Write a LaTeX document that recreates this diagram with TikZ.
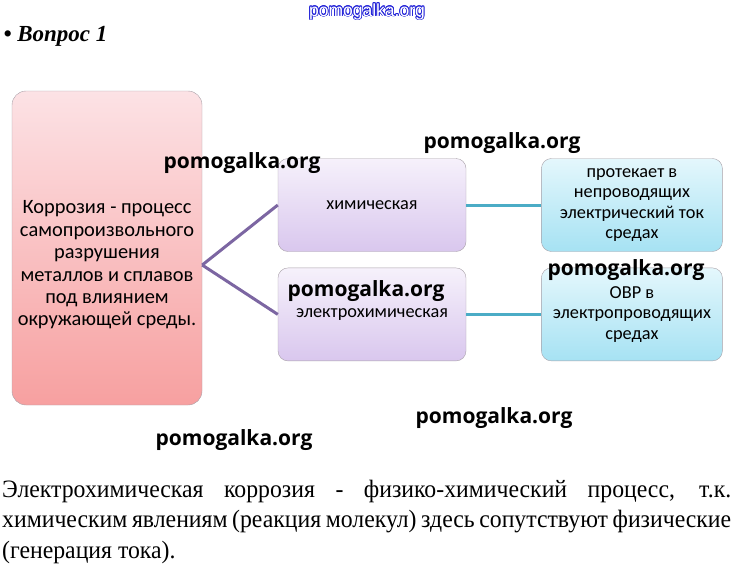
\documentclass[tikz,border=0pt]{standalone}
\usepackage{fontspec}
\setmainfont{Liberation Serif}
\newfontfamily\boxfont{Carlito}
\newfontfamily\markfont{Open Sans}
\newfontfamily\webfont{Liberation Sans}
\newfontfamily\parafont[FakeStretch=0.95]{Liberation Serif}
\usepackage{xcolor}
\usepackage{contour}
\usetikzlibrary{positioning}
\definecolor{pinktop}{HTML}{FCE2E5}
\definecolor{pinkbot}{HTML}{F7A0A0}
\definecolor{lilactop}{HTML}{F6F1FB}
\definecolor{lilacbot}{HTML}{D9C7EE}
\definecolor{cyantop}{HTML}{E4F7FC}
\definecolor{cyanbot}{HTML}{A6E2F3}
\definecolor{boxgray}{HTML}{A8A0A8}
\definecolor{lilacline}{HTML}{7C66A2}
\definecolor{cyanline}{HTML}{4BACC6}
\definecolor{webblue}{HTML}{2424D8}

\begin{document}
\begin{tikzpicture}[x=1pt,y=1pt,
mainbox/.style={draw=boxgray,rounded corners=14pt,top color=pinktop,bottom color=pinkbot,
    minimum width=190pt,minimum height=314pt},
kindbox/.style={draw=boxgray,rounded corners=10pt,top color=lilactop,bottom color=lilacbot,
    minimum width=188pt,minimum height=93pt,align=center,
    font=\boxfont\fontsize{18.3}{20.5}\selectfont},
notebox/.style={kindbox,top color=cyantop,bottom color=cyanbot,minimum width=181pt},
wmark/.style={inner sep=0pt,font=\markfont\bfseries\fontsize{21}{21}\selectfont}]
\useasboundingbox (0,0) rectangle (733,-563);
\node (site) at (367,-12) {\webfont\fontsize{17.5}{17.5}\selectfont
    \contourlength{0.7pt}\contour{webblue}{\color{white}pomogalka.org}};
\node (title) [anchor=base west,font=\bfseries\itshape\fontsize{23}{23}\selectfont]
    at (0,-41) {• Вопрос 1};
\node (corr) [mainbox] at (107,-248) {};
\node (corrtext) [align=center,font=\boxfont\fontsize{20.4}{22.4}\selectfont]
    at (107,-265) {Коррозия - процесс\\самопроизвольного\\разрушения\\
    металлов и сплавов\\под влиянием\\окружающей среды.};
\node (chem) [kindbox] at (372,-205) {химическая};
\node (electro) [kindbox,below=16pt of chem] {электрохимическая};
\node (chemnote) [notebox,right=75pt of chem]
    {протекает в\\непроводящих\\электрический ток\\средах};
\node (electronote) [notebox,right=75pt of electro]
    {ОВР в\\электропроводящих\\средах};
\draw [lilacline,line width=3pt] (corr.east |- corrtext) -- (chem.west);
\draw [lilacline,line width=3pt] (corr.east |- corrtext) -- (electro.west);
\draw [cyanline,line width=3pt] (chem) -- (chemnote);
\draw [cyanline,line width=3pt] (electro) -- (electronote);
\node (wm1) [wmark] at (242,-163) {pomogalka.org};
\node (wm2) [wmark] at (502,-143) {pomogalka.org};
\node (wm3) [wmark] at (366,-291) {pomogalka.org};
\node (wm4) [wmark] at (626,-270) {pomogalka.org};
\node (wm5) [wmark] at (494,-418) {pomogalka.org};
\node (wm6) [wmark] at (234,-440) {pomogalka.org};
\node (para) [anchor=base west,text width=729pt,align=justify,inner sep=0pt,
    font=\parafont\fontsize{25}{30.5}\selectfont] at (2,-497)
    {\hyphenpenalty=10000 Электрохимическая коррозия - физико-химический процесс, т.к.\linebreak
    химическим явлениям (реакция молекул) здесь сопутствуют физические\linebreak
    (генерация тока).};
\end{tikzpicture}
\end{document}
